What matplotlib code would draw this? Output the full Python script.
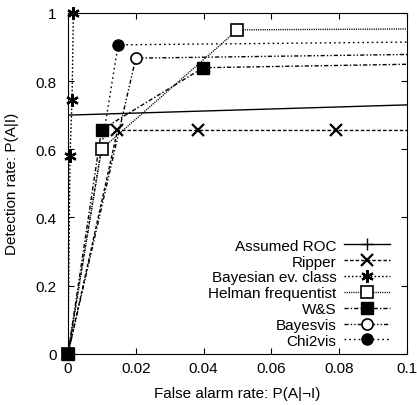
import matplotlib
matplotlib.use('Agg')
import matplotlib.pyplot as plt
from matplotlib.lines import Line2D

plt.rcParams['font.family'] = ['Liberation Sans', 'DejaVu Sans']
plt.rcParams['font.size'] = 10

# Assumed ROC: straight line towards (1, 1)
roc_x = [-0.01, 1.0]
roc_y = [0.697, 1.0]

# Ripper
rip_x = [0, 0.0146, 0.0383, 0.079, 1.0]
rip_y = [0, 0.655, 0.655, 0.655, 0.655]

# Bayesian ev. class
bec_x = [0, 0.0006, 0.0012, 0.0016, 1.0]
bec_y = [0, 0.581, 0.745, 1.0, 1.0]

# Helman frequentist
hel_x = [0, 0.0099, 0.050, 1.0]
hel_y = [0, 0.600, 0.950, 1.0]

# W&S
ws_x = [0, 0.0099, 0.0399, 1.0]
ws_y = [0, 0.657, 0.839, 1.0]

# Bayesvis
bv_x = [0, 0.020, 1.0]
bv_y = [0, 0.867, 1.0]

# Chi2vis
chi_x = [0, 0.0148, 1.0]
chi_y = [0, 0.906, 1.0]

fig = plt.figure(figsize=(4.17, 4.06), dpi=100)
ax = fig.add_axes([0.163, 0.126, 0.813, 0.840])

series = [
    (roc_x, roc_y, dict(linestyle='-', marker='+', ms=9), 'Assumed ROC'),
    (rip_x, rip_y, dict(linestyle=(0, (2.5, 1.5)), marker='x', mew=1.6, ms=8), 'Ripper'),
    (bec_x, bec_y, dict(linestyle=(0, (1.2, 1.5)), marker=(6, 2, 0), mew=1.6, ms=9), 'Bayesian ev. class'),
    (hel_x, hel_y, dict(linestyle=(0, (0.8, 0.8)), marker='s', mfc='white', mew=1.2, ms=8), 'Helman frequentist'),
    (ws_x, ws_y, dict(linestyle=(0, (3, 1.5, 1, 1.5)), marker='s', mfc='black', ms=8), 'W&S'),
    (bv_x, bv_y, dict(linestyle=(0, (3, 1.5, 1, 1.5, 1, 1.5)), marker='o', mfc='white', mew=1.2, ms=8), 'Bayesvis'),
    (chi_x, chi_y, dict(linestyle=(0, (1.2, 2.2)), marker='o', mfc='black', ms=8), 'Chi2vis'),
]

handles = []
for x, y, st, name in series:
    line_st = {'linestyle': st['linestyle']}
    mk = {k: v for k, v in st.items() if k != 'linestyle'}
    # line clipped to the axes
    ax.plot(x, y, color='black', lw=1.0, **line_st)
    # markers drawn unclipped so those sitting on the axes show fully
    if name != 'Assumed ROC':
        ax.plot(x[:-1], y[:-1], color='black', linestyle='none', clip_on=False, zorder=5, **mk)
    handles.append(Line2D([], [], color='black', lw=1.0, label=name, **st))

ax.set_xlim(0, 0.1)
ax.set_ylim(0, 1)
ax.set_xticks([0, 0.02, 0.04, 0.06, 0.08, 0.1])
ax.set_xticklabels(['0', '0.02', '0.04', '0.06', '0.08', '0.1'])
ax.set_yticks([0, 0.2, 0.4, 0.6, 0.8, 1])
ax.set_yticklabels(['0', '0.2', '0.4', '0.6', '0.8', '1'])
ax.tick_params(direction='in', top=True, right=True, length=4, labelsize=11)
ax.tick_params(axis='y', pad=8)
ax.tick_params(axis='x', pad=5)
ax.set_xlabel('False alarm rate: P(A|¬I)', fontsize=11, labelpad=8)
ax.set_ylabel('Detection rate: P(A|I)', fontsize=11, labelpad=12)

ax.legend(handles=handles, loc='lower right', bbox_to_anchor=(0.968, 0.0), markerfirst=False,
          frameon=False, fontsize=11, numpoints=1, handlelength=3, labelspacing=0.12,
          borderaxespad=0, handletextpad=0.5)

fig.savefig('out.png', dpi=100)
